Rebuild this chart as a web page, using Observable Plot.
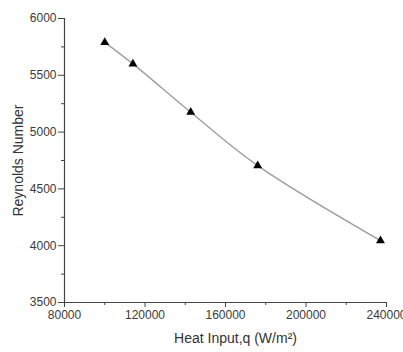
<!DOCTYPE html>
<html>
<head>
<meta charset="utf-8">
<script src="https://cdn.jsdelivr.net/npm/d3@7"></script>
<script src="https://cdn.jsdelivr.net/npm/@observablehq/plot@0.6"></script>
<style>
  body { margin: 0; background: #fff; }
  #chart svg { display: block; }
</style>
</head>
<body>
<div id="chart"></div>
<script>
const heatInput = [100000, 114000, 142700, 176000, 237000];
const reynolds = [5790, 5600, 5175, 4705, 4045];
const xTicks = [80000, 120000, 160000, 200000, 240000];
const xMinorTicks = [100000, 140000, 180000, 220000];
const yTicks = [3500, 4000, 4500, 5000, 5500, 6000];
const yMinorTicks = [3750, 4250, 4750, 5250, 5750];
const xLabel = "Heat Input,q (W/m²)";
const yLabel = "Reynolds Number";

const data = heatInput.map((q, i) => ({q, re: reynolds[i]}));
const font = "Liberation Sans, Arial, sans-serif";

const chart = Plot.plot({
  width: 403,
  height: 352,
  marginLeft: 64,
  marginRight: 17,
  marginTop: 18,
  marginBottom: 50,
  style: {fontFamily: font, fontSize: "12px", color: "#333", background: "#fff"},
  x: {domain: [80000, 240000], axis: null},
  y: {domain: [3500, 6000], axis: null},
  marks: [
    Plot.axisX(xMinorTicks, {tickSize: 3, text: null, label: null, stroke: "#444"}),
    Plot.axisY(yMinorTicks, {tickSize: 3, text: null, label: null, stroke: "#444"}),
    Plot.axisX(xTicks, {tickSize: 5, tickPadding: 3, tickFormat: d => String(d), stroke: "#444", fill: "#3a3a3a", fontSize: 12,
      label: null}),
    Plot.axisY(yTicks, {tickSize: 6, tickPadding: 2, tickFormat: d => String(d), stroke: "#444", fill: "#3a3a3a", fontSize: 12,
      label: null}),
    Plot.text([xLabel], {frameAnchor: "bottom", textAnchor: "middle", dy: 40, dx: 10, fontSize: 14, fill: "#333"}),
    Plot.text([yLabel], {frameAnchor: "left", textAnchor: "middle", rotate: -90, dx: -46, fontSize: 14, fill: "#333"}),
    Plot.ruleY([3500], {stroke: "#444", strokeWidth: 1.2}),
    Plot.ruleX([80000], {stroke: "#444", strokeWidth: 1.2}),
    Plot.line(data, {x: "q", y: "re", curve: "catmull-rom", stroke: "#a0a0a0", strokeWidth: 1.5}),
    Plot.dot(data, {x: "q", y: "re", symbol: "triangle", r: 3.3, fill: "#000", stroke: "none"})
  ]
});
document.getElementById("chart").appendChild(chart);
</script>
</body>
</html>
